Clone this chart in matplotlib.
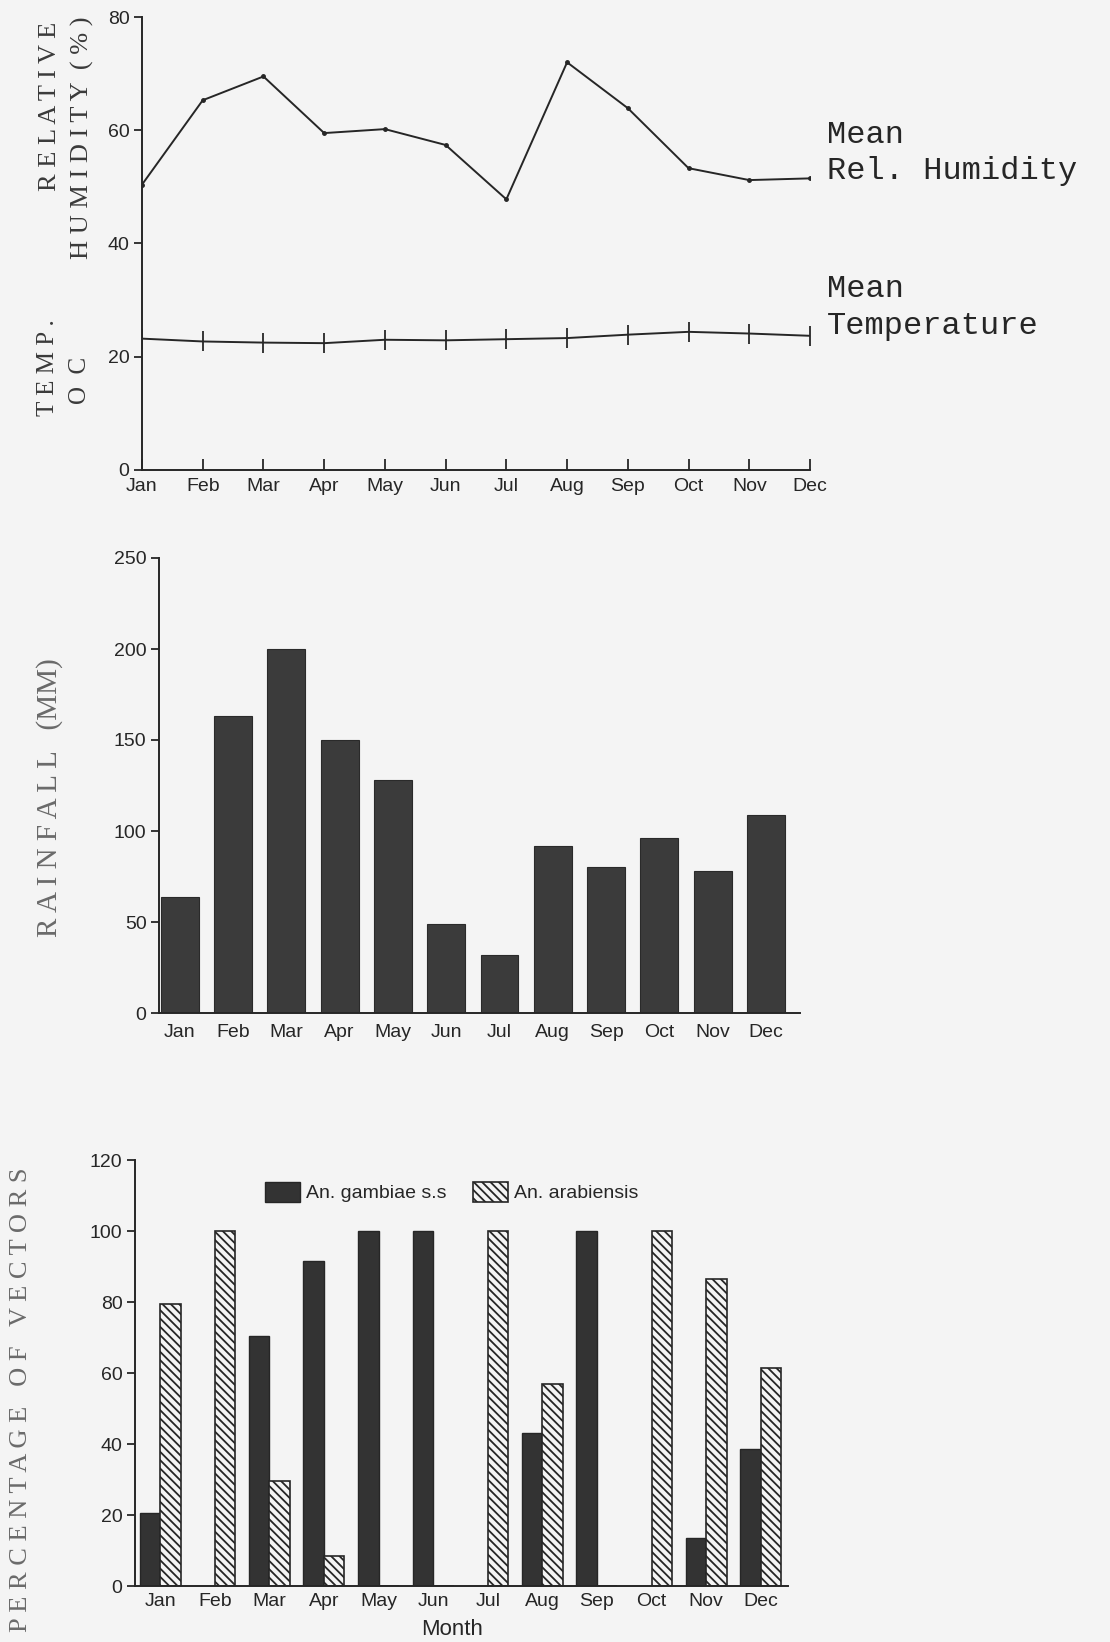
import matplotlib
matplotlib.use('Agg')
import matplotlib.pyplot as plt
import numpy as np

months = ['Jan', 'Feb', 'Mar', 'Apr', 'May', 'Jun', 'Jul', 'Aug', 'Sep', 'Oct', 'Nov', 'Dec']

# mean relative humidity (%) and mean temperature (deg C)
rel_humidity = [50.4, 65.3, 69.5, 59.5, 60.2, 57.4, 47.8, 72.0, 63.9, 53.3, 51.2, 51.5]
temperature = [23.2, 22.7, 22.5, 22.4, 23.0, 22.9, 23.1, 23.3, 23.9, 24.4, 24.1, 23.7]

# rainfall (mm)
rainfall = [64, 163, 200, 150, 128, 49, 32, 92, 80, 96, 78, 109]

# percentage of vectors
gambiae = [20.5, 0, 70.5, 91.5, 100, 100, 0, 43, 100, 0, 13.5, 38.5]
arabiensis = [79.5, 100, 29.5, 8.5, 0, 0, 100, 57, 0, 100, 86.5, 61.5]

W, H = 1110, 1642
BG = '#f4f4f4'
INK = '#262626'
tick_font = ['Liberation Sans Narrow', 'Liberation Sans', 'DejaVu Sans']
serif = ['Liberation Serif', 'DejaVu Serif']
mono = ['Liberation Mono', 'DejaVu Sans Mono']

plt.rcParams['hatch.linewidth'] = 1.3
plt.rcParams['hatch.color'] = INK

fig = plt.figure(figsize=(W / 100, H / 100), dpi=100, facecolor=BG)


def box(left, top, right, bottom):
    return [left / W, 1 - bottom / H, (right - left) / W, (bottom - top) / H]


def style(ax, xticks_in=False, xpad=8):
    ax.set_facecolor(BG)
    for s in ['top', 'right']:
        ax.spines[s].set_visible(False)
    for s in ['left', 'bottom']:
        ax.spines[s].set_linewidth(1.4)
        ax.spines[s].set_color(INK)
    ax.tick_params(axis='y', direction='out', length=6, width=1.3, colors=INK,
                   labelsize=14, pad=3)
    if xticks_in:
        ax.tick_params(axis='x', direction='in', length=8, width=1.3, colors=INK,
                       labelsize=14, pad=6)
    else:
        ax.tick_params(axis='x', length=0, colors=INK, labelsize=14, pad=xpad)
    for lab in ax.get_xticklabels() + ax.get_yticklabels():
        lab.set_family(tick_font)


def spaced(s):
    return ' '.join(s)


x = np.arange(len(months))

# ---- climate lines ----
ax1 = fig.add_axes(box(142, 17, 810, 470))
ax1.plot(x, rel_humidity, color=INK, lw=1.4, marker='.', ms=5)
ax1.plot(x, temperature, color=INK, lw=1.4, marker='|', ms=14, mew=1.3)
ax1.set_xlim(0, 11)
ax1.set_ylim(0, 80)
ax1.set_yticks([0, 20, 40, 60, 80])
ax1.set_xticks(x)
ax1.set_xticklabels(months)
style(ax1, xticks_in=True)

fig.text(827 / W, 1 - 135 / H, 'Mean', family=mono, fontsize=23, color=INK, va='center')
fig.text(827 / W, 1 - 171 / H, 'Rel. Humidity', family=mono, fontsize=23, color=INK, va='center')
fig.text(827 / W, 1 - 289 / H, 'Mean', family=mono, fontsize=23, color=INK, va='center')
fig.text(827 / W, 1 - 326 / H, 'Temperature', family=mono, fontsize=23, color=INK, va='center')

fig.text(50 / W, 1 - 106 / H, spaced('RELATIVE'), family=serif, fontsize=19,
         rotation=90, ha='center', va='center', color='#3a3a3a')
fig.text(82 / W, 1 - 138 / H, spaced('HUMIDITY') + '  ' + spaced('(%)'), family=serif,
         fontsize=19, rotation=90, ha='center', va='center', color='#3a3a3a')
fig.text(48 / W, 1 - 368 / H, spaced('TEMP.'), family=serif, fontsize=18,
         rotation=90, ha='center', va='center', color='#3a3a3a')
fig.text(80 / W, 1 - 380 / H, 'O  C', family=serif, fontsize=18,
         rotation=90, ha='center', va='center', color='#3a3a3a')

# ---- rainfall ----
ax2 = fig.add_axes(box(159, 558, 800, 1013))
ax2.bar(x, rainfall, width=0.71, color='#3b3b3b', edgecolor='#2a2a2a', lw=0.8)
ax2.set_xlim(-0.39, 11.64)
ax2.set_ylim(0, 250)
ax2.set_yticks([0, 50, 100, 150, 200, 250])
ax2.set_xticks(x)
ax2.set_xticklabels(months)
style(ax2)
fig.text(50 / W, 1 - 798 / H, spaced('RAINFALL') + '   ' + '(MM)', family=serif,
         fontsize=21, rotation=90, ha='center', va='center', color='#6a6a6a')

# ---- vectors ----
ax3 = fig.add_axes(box(135, 1160, 788, 1586))
bw = 0.375
ax3.bar(x - bw / 2, gambiae, width=bw, color='#333333', edgecolor=INK, lw=1.0,
        label='An. gambiae s.s')
ax3.bar(x + bw / 2, arabiensis, width=bw, color=BG, edgecolor=INK, lw=1.2,
        hatch='\\\\\\\\', label='An. arabiensis')
ax3.set_xlim(-0.46, 11.5)
ax3.set_ylim(0, 120)
ax3.set_yticks([0, 20, 40, 60, 80, 100, 120])
ax3.set_xticks(x)
ax3.set_xticklabels(months)
style(ax3, xpad=5)
fig.text(452 / W, 1 - 1629 / H, 'Month', fontsize=16, family=tick_font, color=INK,
         ha='center', va='center')
leg = ax3.legend(loc='upper center', bbox_to_anchor=(0.485, 0.99), ncol=2, frameon=False,
                 handlelength=1.8, handleheight=1.2, columnspacing=1.4, handletextpad=0.3,
                 prop={'family': tick_font, 'size': 14})
for t in leg.get_texts():
    t.set_color(INK)
fig.text(21 / W, 1 - 1400 / H, spaced('PERCENTAGE') + '   ' + spaced('OF') + '   ' + spaced('VECTORS'),
         family=serif, fontsize=19, rotation=90, ha='center', va='center', color='#6a6a6a')

fig.savefig('out.png', dpi=100, facecolor=BG)
